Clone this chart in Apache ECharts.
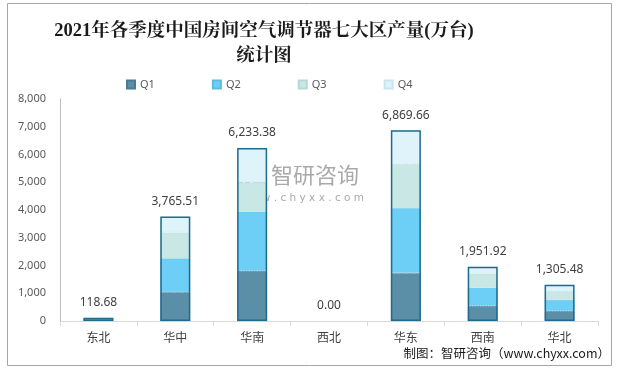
<!DOCTYPE html>
<html>
<head>
<meta charset="utf-8">
<script src="https://cdn.jsdelivr.net/npm/echarts@6/dist/echarts.min.js"></script>
<style>html,body{margin:0;padding:0;background:#fff}#c{width:620px;height:371px}</style>
</head>
<body>
<div id="c"></div>
<script>
var categories = ['东北', '华中', '华南', '西北', '华东', '西南', '华北'];
var q1 = [30, 1040, 1805, 0, 1729, 545, 364];
var q2 = [38, 1219, 2140, 0, 2341, 655, 400];
var q3 = [28, 932, 1050, 0, 1585, 509, 316];
var q4 = [22.68, 574.51, 1238.38, 0, 1214.66, 242.92, 225.48];
var totals = [118.68, 3765.51, 6233.38, 0.00, 6869.66, 1951.92, 1305.48];
var yTicks = [0, 1000, 2000, 3000, 4000, 5000, 6000, 7000, 8000];

var colors = ['#5b8fa7', '#6dcff6', '#c9e8e5', '#dff3fa'];
var edge = ['#4a7b92', '#5bbde4', '#b5d8d5', '#c9e6f0'];
var names = ['Q1', 'Q2', 'Q3', 'Q4'];
var seriesData = [q1, q2, q3, q4];

function fmt(v) {
  return Number(v).toLocaleString('en-US', {minimumFractionDigits: 2, maximumFractionDigits: 2});
}

var chart = echarts.init(document.getElementById('c'));
var series = names.map(function (n, i) {
  return {
    name: n, type: 'bar', stack: 'all', barWidth: 30,
    data: seriesData[i].map(function (v) {
      if (v === 0) return null;
      if (v < 100) return {value: v, itemStyle: {borderWidth: 0}};
      return v;
    }),
    itemStyle: {color: colors[i], borderColor: edge[i], borderWidth: 0.8, borderType: 'dotted'},
    emphasis: {disabled: true}, z: 2
  };
});
series.push({
  name: '合计', type: 'bar', barWidth: 30, barGap: '-100%',
  data: totals.map(function (v) {
    return v === 0 ? {value: v, itemStyle: {borderWidth: 0}} : v;
  }),
  itemStyle: {color: 'rgba(0,0,0,0)', borderColor: '#1f6b8e', borderWidth: 1.5},
  label: {
    show: true, position: 'top', distance: 9, color: '#404040', fontSize: 12,
    fontFamily: 'Noto Sans, sans-serif',
    formatter: function (p) { return fmt(p.value); }
  },
  emphasis: {disabled: true}, z: 3
});

chart.setOption({
  animation: false,
  title: {
    text: '2021年各季度中国房间空气调节器七大区产量(万台)\n统计图',
    left: 259, top: 14, textAlign: 'center',
    textStyle: {
      fontFamily: 'Liberation Serif, Noto Serif CJK SC, Noto Sans CJK SC, serif',
      fontWeight: 'bold', fontSize: 18.5, lineHeight: 25, color: '#1a1a1a'
    }
  },
  legend: {
    data: names, left: 121, top: 74, icon: 'rect',
    itemWidth: 8, itemHeight: 8, itemGap: 57,
    textStyle: {color: '#595959', fontSize: 11, fontFamily: 'Noto Sans, sans-serif'}
  },
  grid: {left: 60, right: 22, top: 99, bottom: 50},
  xAxis: {
    type: 'category', data: categories,
    axisLine: {lineStyle: {color: '#d9d9d9'}},
    axisTick: {show: true, length: 5, lineStyle: {color: '#d9d9d9'}},
    axisLabel: {color: '#404040', fontSize: 12, margin: 10, fontFamily: 'Noto Sans CJK SC'}
  },
  yAxis: {
    type: 'value', min: yTicks[0], max: yTicks[yTicks.length - 1], interval: 1000,
    axisLine: {show: true, lineStyle: {color: '#bfbfbf'}},
    axisTick: {show: false},
    splitLine: {show: false},
    axisLabel: {
      color: '#595959', fontSize: 11, margin: 14, fontFamily: 'Noto Sans, sans-serif',
      formatter: function (v) { return v.toLocaleString('en-US'); }
    }
  },
  graphic: [
    {type: 'rect', shape: {x: 7.5, y: 3.5, width: 604, height: 362}, style: {fill: 'none', stroke: '#a6a6a6', lineWidth: 1}, silent: true},
    {type: 'text', right: 10, top: 347, style: {text: '制图：智研咨询（www.chyxx.com）', fill: '#1a1a1a', font: '12.5px "Noto Sans CJK SC"'}, silent: true},
    {type: 'group', left: 238, top: 164, z: 100, silent: true, children: [
      {type: 'rect', shape: {x: 0, y: 0, width: 12, height: 5}, style: {fill: 'rgba(120,160,185,0.5)'}},
      {type: 'rect', shape: {x: 0, y: 8, width: 5, height: 13}, style: {fill: 'rgba(120,160,185,0.5)'}},
      {type: 'rect', shape: {x: 7, y: 10, width: 5, height: 11}, style: {fill: 'rgba(120,160,185,0.5)'}},
      {type: 'rect', shape: {x: 15, y: 0, width: 12, height: 5}, style: {fill: 'rgba(140,185,205,0.5)'}},
      {type: 'rect', shape: {x: 22, y: 5, width: 5, height: 16}, style: {fill: 'rgba(140,185,205,0.5)'}},
      {type: 'rect', shape: {x: 15, y: 16, width: 7, height: 5}, style: {fill: 'rgba(140,185,205,0.5)'}},
      {type: 'text', x: 33, y: -2, style: {text: '智研咨询', fill: 'rgba(140,140,140,0.75)', font: '22px "Noto Sans CJK SC"'}},
      {type: 'text', x: 0, y: 27, style: {text: 'w w w . c h y x x . c o m', fill: 'rgba(140,140,140,0.75)', font: '10.5px "DejaVu Sans"'}}
    ]}
  ],
  series: series
});
</script>
</body>
</html>
